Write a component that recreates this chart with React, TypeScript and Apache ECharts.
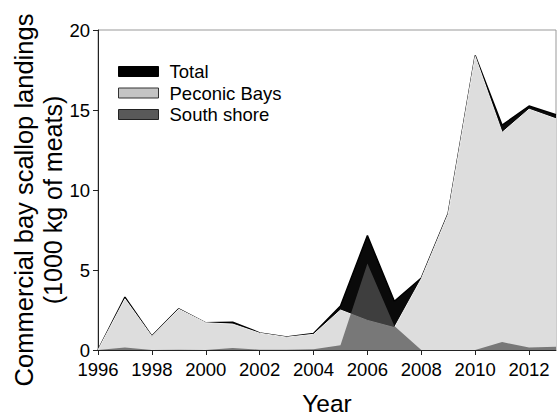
import React, { useEffect, useRef } from "react";
import * as echarts from "echarts";

const years = ["1996","1997","1998","1999","2000","2001","2002","2003","2004","2005","2006","2007","2008","2009","2010","2011","2012","2013"];
const total = [0, 3.3, 0.87, 2.57, 1.7, 1.74, 1.07, 0.82, 1.03, 2.75, 7.15, 3.05, 4.5, 8.55, 18.4, 14.05, 15.25, 14.7];
const peconic = [0, 3.2, 0.85, 2.55, 1.7, 1.62, 1.05, 0.8, 0.98, 2.5, 1.85, 1.4, 4.45, 8.5, 18.35, 13.6, 15.05, 14.45];
const southShore = [0, 0.15, 0, 0.02, 0, 0.12, 0.02, 0.02, 0.05, 0.3, 5.4, 1.5, 0, 0, 0, 0.5, 0.15, 0.2];
const yTicks = [0, 20, 5];

const FONT = "Liberation Sans";

export default function App() {
  const ref = useRef<HTMLDivElement>(null);
  useEffect(() => {
    if (!ref.current) return;
    const chart = echarts.init(ref.current, null, { renderer: "svg" });
    chart.setOption({
      animation: false,
      grid: {
        left: 98, right: 1, top: 30, bottom: 68,
        show: true, borderColor: "#999", borderWidth: 1,
        containLabel: false, outerBoundsMode: "none",
      },
      legend: {
        orient: "vertical",
        left: 113,
        top: 57,
        itemWidth: 40,
        itemHeight: 10,
        itemGap: 2.5,
        icon: "rect",
        textStyle: { fontSize: 18.5, fontFamily: FONT, color: "#000", padding: [0, 0, 0, 6] },
        data: [
          { name: "Total", itemStyle: { color: "#000", borderColor: "#000", borderWidth: 1, opacity: 1 } },
          { name: "Peconic Bays", itemStyle: { color: "#c4c4c4", borderColor: "#333", borderWidth: 1, opacity: 1 } },
          { name: "South shore", itemStyle: { color: "#595959", borderColor: "#222", borderWidth: 1, opacity: 1 } },
        ],
      },
      xAxis: {
        type: "category",
        data: years,
        boundaryGap: false,
        axisLine: { lineStyle: { color: "#222", width: 1 } },
        axisTick: { show: true, length: 5, interval: 1, lineStyle: { color: "#222" } },
        axisLabel: { interval: 1, fontSize: 18.5, fontFamily: FONT, color: "#000", margin: 10 },
        name: "Year",
        nameLocation: "middle",
        nameGap: 41,
        nameTextStyle: { fontSize: 24.5, fontFamily: FONT, color: "#000" },
        splitLine: { show: false },
      },
      yAxis: {
        type: "value",
        min: yTicks[0],
        max: yTicks[1],
        interval: yTicks[2],
        axisLine: { show: true, lineStyle: { color: "#222", width: 1 } },
        axisTick: { show: true, length: 5, lineStyle: { color: "#222" } },
        axisLabel: { fontSize: 18.5, fontFamily: FONT, color: "#000", margin: 8 },
        splitLine: { show: false },
      },
      graphic: [
        {
          type: "text",
          x: 24,
          y: 200,
          rotation: Math.PI / 2,
          style: { text: "Commercial bay scallop landings", font: `25.5px "${FONT}"`, fill: "#000", align: "center", verticalAlign: "middle" },
        },
        {
          type: "text",
          x: 53,
          y: 200,
          rotation: Math.PI / 2,
          style: { text: "(1000 kg of meats)", font: `25px "${FONT}"`, fill: "#000", align: "center", verticalAlign: "middle" },
        },
      ],
      series: [
        {
          name: "Total",
          type: "line",
          data: total,
          symbol: "none",
          lineStyle: { color: "#000", width: 1.5 },
          itemStyle: { color: "#000" },
          areaStyle: { color: "#0a0a0a", opacity: 1 },
          z: 2,
        },
        {
          name: "Peconic Bays",
          type: "line",
          data: peconic,
          symbol: "none",
          lineStyle: { color: "#f2f2f2", width: 1 },
          itemStyle: { color: "#c4c4c4" },
          areaStyle: { color: "#dddddd", opacity: 1 },
          z: 3,
        },
        {
          name: "South shore",
          type: "line",
          data: southShore,
          symbol: "none",
          lineStyle: { width: 0, color: "#525252" },
          itemStyle: { color: "#595959" },
          areaStyle: { color: "#525252", opacity: 0.73 },
          z: 4,
        },
      ],
    });
    return () => chart.dispose();
  }, []);
  return <div ref={ref} style={{ width: 557, height: 418, position: "absolute", left: 0, top: 0 }} />;
}
